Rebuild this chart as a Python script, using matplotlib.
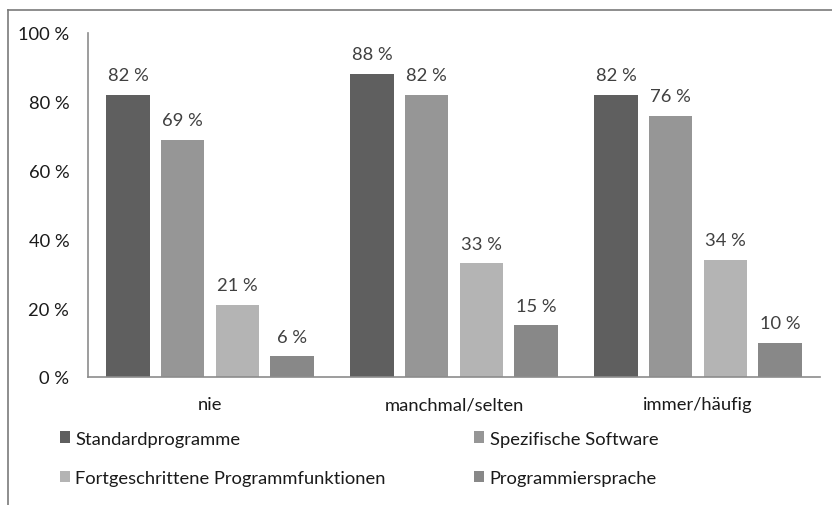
import matplotlib
matplotlib.use("Agg")
import matplotlib.pyplot as plt
from matplotlib.lines import Line2D
import numpy as np

plt.rcParams['font.family'] = ['Lato', 'DejaVu Sans']

categories = ["nie", "manchmal/selten", "immer/häufig"]
series_names = ["Standardprogramme", "Spezifische Software",
                "Fortgeschrittene Programmfunktionen", "Programmiersprache"]
standard = [82, 88, 82]
spezifisch = [69, 82, 76]
fortgeschritten = [21, 33, 34]
programmiersprache = [6, 15, 10]
series_values = [standard, spezifisch, fortgeschritten, programmiersprache]
colors = ["#5f5f5f", "#969696", "#b4b4b4", "#888888"]
y_ticks = [0, 20, 40, 60, 80, 100]
y_tick_labels = ["0 %", "20 %", "40 %", "60 %", "80 %", "100 %"]

FS = 13.2
W, H = 832, 506
fig = plt.figure(figsize=(W / 100, H / 100), dpi=100)
ax = fig.add_axes([88 / W, 1 - 378 / H, (820 - 88) / W, (378 - 34) / H])

x = np.arange(len(categories))
step = 0.224
width = 0.178
for i, (name, vals, col) in enumerate(zip(series_names, series_values, colors)):
    pos = x + (i - 1.5) * step
    ax.bar(pos, vals, width=width, color=col, label=name)
    for p, v in zip(pos, vals):
        ax.annotate(f"{v} %", (p, v), xytext=(0, 8.5), textcoords="offset points",
                    ha="center", va="bottom", fontsize=FS, color="#404040")

ax.set_xlim(-0.5, len(categories) - 0.5)
ax.set_ylim(0, 100)
ax.set_yticks(y_ticks)
ax.set_yticklabels(y_tick_labels, fontsize=FS, color="#1a1a1a")
ax.set_xticks(x)
ax.set_xticklabels(categories, fontsize=FS, color="#1a1a1a")
ax.tick_params(axis="both", length=0)
ax.tick_params(axis="y", pad=13.5)
ax.tick_params(axis="x", pad=14)
for s in ["top", "right"]:
    ax.spines[s].set_visible(False)
for s in ["left", "bottom"]:
    ax.spines[s].set_color("#8c8c8c")
    ax.spines[s].set_linewidth(1.2)

handles, labels = ax.get_legend_handles_labels()
order = [0, 2, 1, 3]
fig.legend([handles[k] for k in order], [labels[k] for k in order],
           ncol=2, loc="upper left", bbox_to_anchor=(43 / W, 1 - 415 / H),
           frameon=False, fontsize=FS, handlelength=0.55, handleheight=0.55,
           handletextpad=0.3, columnspacing=4.82, labelspacing=1.26,
           labelcolor="#1a1a1a")

# outer frame edges
fig.add_artist(Line2D([8 / W, 8 / W], [0, 1 - 11 / H], color="#7a7a7a", lw=1.2,
                      transform=fig.transFigure))
fig.add_artist(Line2D([8 / W, 1], [1 - 11 / H, 1 - 11 / H], color="#7a7a7a", lw=1.2,
                      transform=fig.transFigure))

fig.savefig("out.png", dpi=100)
